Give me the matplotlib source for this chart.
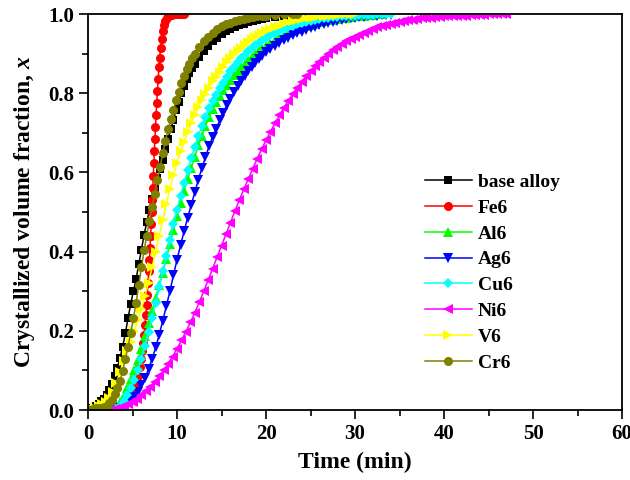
import matplotlib.pyplot as plt
from matplotlib.ticker import MultipleLocator

plt.rcParams['font.family'] = ['Liberation Serif', 'DejaVu Serif']
plt.rcParams['font.weight'] = 'bold'
plt.rcParams['mathtext.fontset'] = 'custom'
plt.rcParams['mathtext.it'] = 'Liberation Serif:italic:bold'
plt.rcParams['mathtext.rm'] = 'Liberation Serif:bold'

# values (time in min, crystallized fraction)
t_base = [0.0, 0.3, 0.6, 0.9, 1.2, 1.5, 1.8, 2.1, 2.4, 2.7, 3.0, 3.3, 3.6, 3.9, 4.2,
          4.5, 4.8, 5.1, 5.4, 5.7, 6.0, 6.3, 6.6, 6.9, 7.2, 7.5, 7.8, 8.1, 8.4, 8.7,
          9.0, 9.3, 9.6, 9.9, 10.2, 10.5, 10.8, 11.1, 11.4, 11.7, 12.0,
          12.5, 13.0, 13.5, 14.0, 14.5, 15.0, 15.5, 16.0, 16.5, 17.0, 17.5, 18.0,
          18.5, 19.0, 19.5, 20.0, 21, 22, 23, 24, 25, 26, 27, 28, 29, 30]
x_base = [0.000, 0.003, 0.006, 0.010, 0.015, 0.022, 0.029, 0.038, 0.050, 0.065,
          0.085, 0.107, 0.132, 0.160, 0.195, 0.232, 0.268, 0.300, 0.330, 0.368,
          0.405, 0.442, 0.475, 0.505, 0.533, 0.559, 0.585, 0.608, 0.632, 0.659,
          0.685, 0.709, 0.733, 0.757, 0.779, 0.800, 0.818, 0.835, 0.850, 0.863, 0.875,
          0.892, 0.907, 0.920, 0.931, 0.940, 0.949, 0.956, 0.962, 0.967, 0.972,
          0.976, 0.980, 0.983, 0.986, 0.988, 0.990,
          0.993, 0.995, 0.997, 0.998, 0.999, 0.999, 1.0, 1.0, 1.0, 1.0]

t_fe6 = [2.0, 2.5, 3.0, 3.5, 4.0, 4.4, 4.8, 5.1, 5.4, 5.65, 5.85, 6.0, 6.1, 6.2, 6.3,
         6.4, 6.5, 6.58, 6.66, 6.74, 6.82, 6.9, 6.97, 7.04, 7.1, 7.16, 7.22, 7.28,
         7.34, 7.4, 7.46, 7.52, 7.58, 7.65, 7.72, 7.8, 7.88, 7.97, 8.06, 8.16, 8.27,
         8.4, 8.55, 8.7, 8.85, 9.0, 9.2, 9.4, 9.6, 9.8, 10.0, 10.2, 10.4, 10.6, 10.8]
x_fe6 = [0.000, 0.002, 0.004, 0.008, 0.014, 0.022, 0.035, 0.048, 0.065, 0.085,
         0.108, 0.130, 0.150, 0.170, 0.190, 0.215, 0.240, 0.265, 0.290, 0.320,
         0.350, 0.380, 0.410, 0.440, 0.470, 0.500, 0.530, 0.560, 0.590, 0.625,
         0.655, 0.685, 0.715, 0.745, 0.775, 0.805, 0.835, 0.865, 0.890, 0.915,
         0.938, 0.957, 0.972, 0.983, 0.990, 0.994, 0.997, 0.998, 0.999, 1.0,
         1.0, 1.0, 1.0, 1.0, 1.0]

t_al6 = [2.4, 2.8, 3.2, 3.6, 4.0, 4.4, 4.8, 5.2, 5.6, 6.0, 6.4, 6.8, 7.2, 7.6, 8.0,
         8.4, 8.8, 9.2, 9.6, 10.0, 10.4, 10.8, 11.2, 11.6, 12.0, 12.4, 12.8, 13.2,
         13.6, 14.0, 14.4, 14.8, 15.2, 15.6, 16.0, 16.4, 16.8, 17.2, 17.6, 18.0,
         18.4, 18.8, 19.2, 19.6, 20.0,
         20.5, 21.0, 21.5, 22.0, 22.5, 23.0, 23.5, 24.0, 24.5, 25.0, 25.5, 26.0,
         26.5, 27.0, 27.5, 28.0, 28.5, 29.0, 29.5, 30.0, 30.5, 31.0, 31.5, 32.0,
         32.5, 33.0]
x_al6 = [0.000, 0.003, 0.010, 0.021, 0.035, 0.055, 0.078, 0.102, 0.127, 0.155,
         0.187, 0.219, 0.251, 0.283, 0.315, 0.347, 0.382, 0.418, 0.454, 0.490,
         0.522, 0.554, 0.584, 0.612, 0.640, 0.668, 0.693, 0.717, 0.740, 0.760,
         0.778, 0.793, 0.807, 0.821, 0.834, 0.845, 0.856, 0.866, 0.875, 0.884,
         0.892, 0.900, 0.908, 0.914, 0.920,
         0.928, 0.935, 0.941, 0.947, 0.952, 0.957, 0.962, 0.966, 0.970, 0.973,
         0.976, 0.979, 0.982, 0.984, 0.986, 0.988, 0.990, 0.991, 0.993, 0.994,
         0.995, 0.996, 0.997, 0.998, 0.999, 0.999]

t_ag6 = [3.2, 3.6, 4.0, 4.4, 4.8, 5.2, 5.6, 6.0, 6.4, 6.8, 7.2, 7.6, 8.0, 8.4, 8.8,
         9.2, 9.6, 10.0, 10.4, 10.8, 11.2, 11.6, 12.0, 12.4, 12.8, 13.2, 13.6, 14.0,
         14.4, 14.8, 15.2, 15.6, 16.0, 16.4, 16.8, 17.2, 17.6, 18.0, 18.4, 18.8,
         19.2, 19.6, 20.0,
         20.5, 21.0, 21.5, 22.0, 22.5, 23.0, 23.5, 24.0, 24.5, 25.0, 25.5, 26.0,
         26.5, 27.0, 27.5, 28.0, 28.5, 29.0, 29.5, 30.0, 30.5, 31.0, 31.5, 32.0,
         32.5, 33.0, 33.5, 34.0]
x_ag6 = [0.001, 0.005, 0.010, 0.016, 0.024, 0.033, 0.046, 0.062, 0.080, 0.103,
         0.129, 0.158, 0.190, 0.226, 0.262, 0.300, 0.340, 0.380, 0.416, 0.452,
         0.486, 0.518, 0.550, 0.582, 0.611, 0.639, 0.666, 0.690, 0.710, 0.732,
         0.751, 0.769, 0.786, 0.802, 0.817, 0.831, 0.844, 0.856, 0.866, 0.877,
         0.887, 0.895, 0.903,
         0.912, 0.920, 0.927, 0.934, 0.940, 0.946, 0.951, 0.955, 0.960, 0.964,
         0.968, 0.972, 0.975, 0.978, 0.981, 0.983, 0.985, 0.987, 0.989, 0.990,
         0.992, 0.993, 0.994, 0.995, 0.996, 0.997, 0.998, 0.998]

t_cu6 = list(t_ag6)
x_cu6 = [0.003, 0.010, 0.022, 0.038, 0.055, 0.077, 0.102, 0.130, 0.162, 0.197,
         0.233, 0.270, 0.310, 0.350, 0.390, 0.430, 0.470, 0.505, 0.541, 0.574,
         0.606, 0.637, 0.665, 0.693, 0.718, 0.741, 0.762, 0.780, 0.796, 0.812,
         0.827, 0.841, 0.855, 0.867, 0.878, 0.888, 0.897, 0.906, 0.914, 0.921,
         0.928, 0.934, 0.940,
         0.947, 0.953, 0.958, 0.963, 0.967, 0.971, 0.975, 0.978, 0.981, 0.983,
         0.985, 0.987, 0.989, 0.990, 0.992, 0.993, 0.994, 0.995, 0.995, 0.996,
         0.997, 0.997, 0.998, 0.998, 0.999, 0.999, 1.0, 1.0]

t_ni6 = [2.5, 3.0, 3.5, 4.0, 4.5, 5.0, 5.5, 6.0, 6.5, 7.0, 7.5, 8.0, 8.5, 9.0, 9.5,
         10.0, 10.5, 11.0, 11.5, 12.0, 12.5, 13.0, 13.5, 14.0, 14.5, 15.0, 15.5,
         16.0, 16.5, 17.0, 17.5, 18.0, 18.5, 19.0, 19.5, 20.0, 20.5, 21.0, 21.5,
         22.0, 22.5, 23.0, 23.5, 24.0, 24.5, 25.0, 25.5, 26.0, 26.5, 27.0, 27.5,
         28.0, 28.5, 29.0, 29.5, 30.0, 30.5, 31.0, 31.5, 32.0, 32.5, 33.0, 33.5,
         34.0, 34.5, 35.0, 35.5, 36.0, 36.5, 37.0, 37.5, 38.0, 38.5, 39.0, 39.5,
         40.0, 40.5, 41.0, 41.5, 42.0, 42.5, 43.0, 43.5, 44.0, 44.5, 45.0, 45.5,
         46.0, 46.5, 47.0]
x_ni6 = [0.000, 0.003, 0.006, 0.010, 0.015, 0.021, 0.028, 0.037, 0.047, 0.058,
         0.071, 0.085, 0.100, 0.117, 0.135, 0.155, 0.176, 0.198, 0.221, 0.246,
         0.272, 0.300, 0.328, 0.357, 0.386, 0.415, 0.444, 0.473, 0.502, 0.530,
         0.557, 0.583, 0.609, 0.634, 0.658, 0.681, 0.703, 0.724, 0.744, 0.763,
         0.781, 0.798, 0.814, 0.829, 0.843, 0.856, 0.868, 0.879, 0.889, 0.899,
         0.908, 0.916, 0.924, 0.931, 0.937, 0.943, 0.948, 0.953, 0.958, 0.962,
         0.966, 0.969, 0.972, 0.975, 0.978, 0.980, 0.982, 0.984, 0.986, 0.987,
         0.989, 0.990, 0.991, 0.992, 0.993, 0.994, 0.994, 0.995, 0.995, 0.996,
         0.996, 0.997, 0.997, 0.998, 0.998, 0.999, 0.999, 0.999, 1.000, 1.000]

t_v6 = [0.4, 0.8, 1.2, 1.6, 2.0, 2.4, 2.8, 3.2, 3.6, 4.0, 4.4, 4.8, 5.2, 5.6, 6.0,
        6.4, 6.8, 7.2, 7.6, 8.0, 8.4, 8.8, 9.2, 9.6, 10.0, 10.4, 10.8, 11.2, 11.6,
        12.0, 12.4, 12.8, 13.2, 13.6, 14.0, 14.4, 14.8, 15.2, 15.6, 16.0, 16.4,
        16.8, 17.2, 17.6, 18.0, 18.4, 18.8, 19.2, 19.6, 20.0,
        20.5, 21.0, 21.5, 22.0, 22.5, 23.0, 23.5, 24.0, 24.5, 25.0, 25.5, 26.0,
        26.5, 27.0, 27.5, 28.0, 28.5, 29.0, 29.5, 30.0]
x_v6 = [0.002, 0.006, 0.010, 0.015, 0.020, 0.031, 0.045, 0.068, 0.097, 0.125,
        0.149, 0.173, 0.199, 0.227, 0.255, 0.287, 0.322, 0.360, 0.400, 0.440,
        0.480, 0.520, 0.558, 0.593, 0.625, 0.653, 0.678, 0.702, 0.725, 0.745,
        0.765, 0.782, 0.798, 0.814, 0.830, 0.842, 0.854, 0.866, 0.878, 0.888,
        0.898, 0.906, 0.914, 0.922, 0.930, 0.936, 0.942, 0.948, 0.953, 0.957,
        0.962, 0.967, 0.971, 0.975, 0.979, 0.982, 0.985, 0.987, 0.989, 0.991,
        0.993, 0.994, 0.995, 0.996, 0.997, 0.998, 0.999, 0.999, 1.0, 1.0]

t_cr6 = t_base[:57] + [21, 22, 23, 23.5]
x_cr6 = [0.000, 0.001, 0.002, 0.004, 0.005, 0.006, 0.008, 0.011, 0.017, 0.026,
         0.040, 0.055, 0.074, 0.098, 0.130, 0.160, 0.195, 0.232, 0.270, 0.315,
         0.360, 0.403, 0.440, 0.478, 0.512, 0.546, 0.580, 0.614, 0.648, 0.680,
         0.710, 0.734, 0.758, 0.782, 0.804, 0.825, 0.843, 0.860, 0.875, 0.888, 0.900,
         0.917, 0.931, 0.943, 0.953, 0.962, 0.969, 0.974, 0.978, 0.982, 0.985,
         0.988, 0.990, 0.992, 0.994, 0.995, 0.996,
         0.998, 0.999, 1.0, 1.0]

series = [
    ('base alloy', t_base, x_base, 'black', 's', 5.5),
    ('Fe6', t_fe6, x_fe6, '#FF0000', 'o', 6.5),
    ('Al6', t_al6, x_al6, '#00FF00', '^', 7),
    ('Ag6', t_ag6, x_ag6, '#0000FF', 'v', 7),
    ('Cu6', t_cu6, x_cu6, '#00FFFF', 'D', 5.5),
    ('Ni6', t_ni6, x_ni6, '#FF00FF', '<', 7),
    ('V6', t_v6, x_v6, '#FFFF00', '>', 7),
    ('Cr6', t_cr6, x_cr6, '#808000', 'o', 6.5),
]

fig = plt.figure(figsize=(6.3, 4.8), dpi=100)
ax = fig.add_axes([0.1397, 0.1458, 0.8476, 0.825])

for name, t, x, col, mk, ms in series:
    ax.plot(t, x, color=col, marker=mk, markersize=ms, linewidth=1.1,
            markeredgewidth=0, label=name)

ax.set_xlim(0, 60)
ax.set_ylim(0, 1.0)
ax.xaxis.set_major_locator(MultipleLocator(10))
ax.xaxis.set_minor_locator(MultipleLocator(5))
ax.yaxis.set_major_locator(MultipleLocator(0.2))
ax.yaxis.set_minor_locator(MultipleLocator(0.1))
ax.tick_params(which='major', direction='out', length=6.5, width=1.2, labelsize=15)
ax.tick_params(which='minor', direction='out', length=4, width=1.2)
for sp in ax.spines.values():
    sp.set_linewidth(1.3)

ax.set_xlabel('Time (min)', fontsize=17, fontweight='bold', labelpad=6)
ax.set_ylabel('Crystallized volume fraction, $x$', fontsize=17, fontweight='bold',
              labelpad=8)

ax.legend(loc='upper left', bbox_to_anchor=(425 / 630, 1 - 173.5 / 480),
          bbox_transform=fig.transFigure, frameon=False, fontsize=14,
          handlelength=2.4, handletextpad=0.3, labelspacing=0.42,
          borderpad=0, borderaxespad=0)

fig.savefig('out.png', dpi=100)
